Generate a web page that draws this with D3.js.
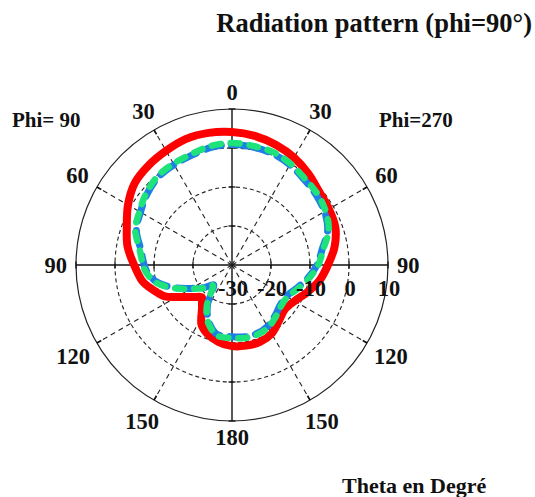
<!DOCTYPE html>
<html><head><meta charset="utf-8">
<script src="https://cdn.jsdelivr.net/npm/d3@7/dist/d3.min.js"></script>
<style>
html,body{margin:0;padding:0;background:#fff;}
svg{display:block;}
text{font-family:"Liberation Serif","Times New Roman",serif;font-weight:bold;fill:#111;}
</style></head>
<body><svg id="c" width="535" height="497"></svg>
<script>
// ---- data ----
const titleText = "Radiation pattern (phi=90°)";
const xTitle = "Theta en Degré";
const sideLabels = ["Phi= 90", "Phi=270"];
const radialTicks = [-30, -20, -10, 0, 10];
const angleTicks = [0, 30, 60, 90, 120, 150, 180, 210, 240, 270, 300, 330];

const redAngles = [0,10,20,30,40,50,60,70,80,90,100,110,120,130,140,150,160,170,180,190,200,207,215,220,223,230,235,240,245,250,255,260,270,280,290,300,310,320,330,340,350];
const redDb = [4.1,3.6,2.8,1.8,0.5,-0.8,-1.3,-1.8,-3.3,-5.4,-7.2,-9.5,-11.5,-12.3,-11.3,-9.7,-9.0,-9.0,-9.2,-10.0,-11.3,-12.8,-16.6,-18.0,-18.7,-17.2,-15.7,-13.6,-11.0,-9.5,-8.0,-6.6,-4.9,-2.8,-1.3,0.8,2.6,3.3,3.8,4.4,4.4];

const blueAngles = [0,10,20,30,40,50,60,70,80,90,100,110,120,130,140,150,160,170,180,192,200,205,212,216,223,230,235,240,245,250,257,265,270,280,290,300,310,320,330,340,350];
const blueDb = [0.9,0.7,0.4,-0.3,-1.3,-1.9,-2.6,-3.9,-6.5,-8.2,-10.3,-12.4,-13.9,-13.9,-12.9,-11.8,-11.3,-11.3,-11.6,-11.8,-13.6,-15.2,-18.2,-20.8,-23.1,-21.1,-19.8,-18.0,-15.9,-13.4,-10.3,-8.2,-7.5,-6.2,-3.9,-2.9,-1.6,-0.6,-0.3,0.0,0.6];

const greenAngles = [0,10,20,30,40,50,60,70,80,90,100,110,120,130,140,150,160,170,180,192,200,205,212,216,223,230,235,240,245,250,257,265,270,280,290,300,310,320,330,340,350];
const greenDb = [1.3,1.0,0.8,0.0,-1.0,-1.5,-2.3,-3.6,-6.2,-7.9,-10.0,-12.1,-13.6,-13.6,-12.6,-11.5,-11.0,-11.0,-11.3,-11.5,-13.3,-14.9,-17.9,-20.5,-22.8,-20.8,-19.5,-17.7,-15.6,-13.1,-10.0,-7.9,-7.2,-5.9,-3.6,-2.6,-1.3,-0.3,0.0,0.3,1.0];

// ---- layout ----
const W = 535, H = 497;
const cx = 232, cy = 265, R = 156;
const svg = d3.select("#c");
svg.append("rect").attr("width",W).attr("height",H).attr("fill","#fff");

const r = d3.scaleLinear().domain([-30, 10]).range([0, R]);
const ang = d3.scaleLinear().domain([0, 360]).range([0, 2*Math.PI]);
const g = svg.append("g").attr("transform",`translate(${cx},${cy})`);

function pt(deg, rad){ const a = ang(deg); return [rad*Math.sin(a), -rad*Math.cos(a)]; }

// dashed circles
g.selectAll("circle.grid").data(radialTicks.filter(d=>d>-30 && d<10)).enter()
  .append("circle").attr("r",d=>r(d)).attr("fill","none")
  .attr("stroke","#222").attr("stroke-width",1.1).attr("stroke-dasharray","4,3");
// outer circle
g.append("circle").attr("r",r(10)).attr("fill","none").attr("stroke","#222").attr("stroke-width",1.2);

// spokes
angleTicks.forEach(a=>{
  const p = pt(a, R);
  const solid = a % 90 === 0;
  g.append("line").attr("x1",0).attr("y1",0).attr("x2",p[0]).attr("y2",p[1])
    .attr("stroke",solid?"#111":"#222").attr("stroke-width",solid?1.4:1.1)
    .attr("stroke-dasharray",solid?null:"5,4");
  if(!solid){
    const q = pt(a, R-5);
    g.append("line").attr("x1",q[0]).attr("y1",q[1]).attr("x2",p[0]).attr("y2",p[1])
      .attr("stroke","#111").attr("stroke-width",1.6);
  }
});
// axis ticks at circle crossings
[0,90,180,270].forEach(a=>{
  radialTicks.filter(d=>d>-30).forEach(d=>{
    const p = pt(a, r(d));
    const n = pt(a+90, 3.5);
    g.append("line").attr("x1",p[0]-n[0]).attr("y1",p[1]-n[1]).attr("x2",p[0]+n[0]).attr("y2",p[1]+n[1])
      .attr("stroke","#111").attr("stroke-width",1.3);
  });
});

// curves
function series(angles, vals){ return angles.map((a,i)=>[ang(a), r(vals[i])]); }
const line = d3.lineRadial().angle(d=>d[0]).radius(d=>d[1]).curve(d3.curveCatmullRomClosed.alpha(0.5));
g.append("path").attr("d", line(series(redAngles, redDb))).attr("fill","none")
  .attr("stroke","#ff0000").attr("stroke-width",8).attr("stroke-linejoin","round");
g.append("path").attr("d", line(series(blueAngles, blueDb))).attr("fill","none")
  .attr("stroke","#1f7fe6").attr("stroke-width",7).attr("stroke-linecap","round")
  .attr("stroke-dasharray","16,10");
g.append("path").attr("d", line(series(greenAngles, greenDb))).attr("fill","none")
  .attr("stroke","#1ee37a").attr("stroke-width",6.5).attr("stroke-linecap","round")
  .attr("stroke-dasharray","9,10").attr("stroke-dashoffset",4);

// angular labels
const fs = 22.5;
angleTicks.forEach(a=>{
  const lab = a <= 180 ? a : 360 - a;
  const t = g.append("text").attr("font-size",fs).attr("text-anchor","middle").text(lab);
  const hw = t.node().getComputedTextLength()/2, hh = 7.5;
  const rad = ang(a);
  const rr = 165 + Math.abs(hw*Math.sin(rad)) + Math.abs(hh*Math.cos(rad));
  const p = pt(a, rr);
  t.attr("x",p[0]).attr("y",p[1]+7.7);
});
// radial labels
radialTicks.forEach(d=>{
  g.append("text").attr("font-size",fs).attr("text-anchor","middle")
    .attr("x", r(d)+1).attr("y", 30.5).text(d);
});

// side labels, title, axis title
svg.append("text").attr("font-size",21).attr("x",12).attr("y",127).text(sideLabels[0]);
svg.append("text").attr("font-size",21).attr("x",379).attr("y",127).text(sideLabels[1]);
svg.append("text").attr("font-size",26.5).attr("text-anchor","end").attr("x",532).attr("y",32).text(titleText);
svg.append("text").attr("font-size",22).attr("x",342).attr("y",493).text(xTitle);
</script></body></html>
